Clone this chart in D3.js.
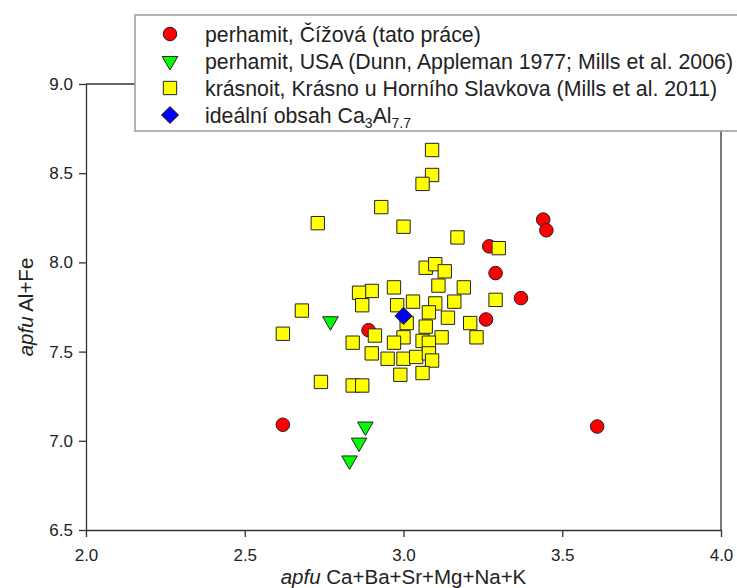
<!DOCTYPE html>
<html>
<head>
<meta charset="utf-8">
<script src="https://cdn.jsdelivr.net/npm/d3@7"></script>
<style>
  body { margin: 0; background: #fff; }
  text { font-family: "Liberation Sans", Arial, sans-serif; fill: #222; }
</style>
</head>
<body>
<div id="wrapper"></div>
<script>
// perhamit, Čížová (this work)
const perhamitCizova = [
    [2.62, 7.09], [3.61, 7.08], [3.44, 8.24], [3.45, 8.18], [3.27, 8.09],
    [3.29, 7.94], [3.37, 7.80], [3.26, 7.68], [2.89, 7.62]
];
// perhamit, USA
const perhamitUSA = [
    [2.77, 7.67], [2.88, 7.08], [2.86, 6.99], [2.83, 6.89]
];
// krásnoit, Krásno
const krasnoit = [
    [3.09, 8.63], [3.09, 8.49], [3.06, 8.44], [2.93, 8.31], [2.73, 8.22],
    [3.00, 8.20], [3.17, 8.14], [3.30, 8.08], [3.07, 7.97], [3.10, 7.99],
    [3.13, 7.95], [3.11, 7.87], [2.97, 7.86], [3.19, 7.86], [2.90, 7.84],
    [2.86, 7.83], [3.29, 7.79], [3.16, 7.78], [3.03, 7.78], [3.10, 7.77],
    [2.98, 7.76], [2.87, 7.76], [2.68, 7.73], [3.08, 7.72], [3.14, 7.69],
    [3.01, 7.66], [3.21, 7.66], [3.07, 7.64], [3.23, 7.58], [2.91, 7.59],
    [2.62, 7.60], [3.00, 7.58], [3.12, 7.58], [3.06, 7.56], [3.08, 7.55],
    [2.97, 7.55], [2.84, 7.55], [2.90, 7.49], [2.95, 7.46], [3.00, 7.46],
    [3.04, 7.47], [3.08, 7.49], [3.09, 7.45], [2.99, 7.37], [3.06, 7.38],
    [2.74, 7.33], [2.84, 7.31], [2.87, 7.31]
];
// ideal Ca3Al7.7
const ideal = [[3.0, 7.7]];

const xTicks = [2.0, 2.5, 3.0, 3.5, 4.0];
const yTicks = [6.5, 7.0, 7.5, 8.0, 8.5, 9.0];

const legendItems = ["cizova", "usa", "krasnoit", "ideal"];

const dimension = {
    width: 737,
    height: 588,
    margin: { top: 84, right: 16, bottom: 58, left: 86 }
};
dimension.boundedWidth = dimension.width - dimension.margin.left - dimension.margin.right;
dimension.boundedHeight = dimension.height - dimension.margin.top - dimension.margin.bottom;

const svg = d3.select("#wrapper")
    .append("svg")
    .attr("width", dimension.width)
    .attr("height", dimension.height);

const bounds = svg.append("g")
    .attr("transform", `translate(${dimension.margin.left},${dimension.margin.top})`);

const x = d3.scaleLinear().domain([2.0, 4.0]).range([0, dimension.boundedWidth]);
const y = d3.scaleLinear().domain([6.5, 9.0]).range([dimension.boundedHeight, 0]);

// axes
const xAxis = bounds.append("g")
    .attr("transform", `translate(0,${dimension.boundedHeight})`)
    .call(d3.axisBottom(x).tickValues(xTicks).tickFormat(d3.format(".1f"))
        .tickSize(7).tickSizeOuter(0).tickPadding(12));
const yAxis = bounds.append("g")
    .call(d3.axisLeft(y).tickValues(yTicks).tickFormat(d3.format(".1f"))
        .tickSize(7).tickSizeOuter(0).tickPadding(6));

[xAxis, yAxis].forEach(a => {
    a.select(".domain").attr("stroke", "#333").attr("stroke-width", 1.3);
    a.selectAll(".tick line").attr("stroke", "#333").attr("stroke-width", 1.3);
    a.selectAll(".tick text").style("font-size", "17px").attr("fill", "#333");
});

// top and right frame
bounds.append("line")
    .attr("x1", x(2)).attr("x2", x(4)).attr("y1", y(9)).attr("y2", y(9))
    .attr("stroke", "#333").attr("stroke-width", 1.3);
bounds.append("line")
    .attr("x1", x(4)).attr("x2", x(4)).attr("y1", y(9)).attr("y2", y(6.5))
    .attr("stroke", "#333").attr("stroke-width", 1.3);

// axis titles
const xTitle = svg.append("text")
    .attr("x", dimension.margin.left + x(3))
    .attr("y", 584)
    .attr("text-anchor", "middle")
    .style("font-size", "20.5px");
xTitle.append("tspan").style("font-style", "italic").text("apfu");
xTitle.append("tspan").text(" Ca+Ba+Sr+Mg+Na+K");

const yTitle = svg.append("text")
    .attr("transform", `translate(33,${dimension.margin.top + y(7.75)}) rotate(-90)`)
    .attr("text-anchor", "middle")
    .style("font-size", "20.5px");
yTitle.append("tspan").style("font-style", "italic").text("apfu");
yTitle.append("tspan").text(" Al+Fe");

// symbols
const sym = {
    cizova: { path: d3.symbol(d3.symbolCircle, 145)(), fill: "#ff0000", rot: 0 },
    usa: { path: d3.symbol(d3.symbolTriangle, 105)(), fill: "#00ff00", rot: 180 },
    krasnoit: { path: d3.symbol(d3.symbolSquare, 178)(), fill: "#ffff00", rot: 0 },
    ideal: { path: d3.symbol(d3.symbolSquare, 140)(), fill: "#0000ff", rot: 45 }
};

function drawSeries(data, key) {
    const s = sym[key];
    bounds.append("g")
        .selectAll("path")
        .data(data)
        .enter()
        .append("path")
        .attr("d", s.path)
        .attr("transform", d => `translate(${x(d[0])},${y(d[1])}) rotate(${s.rot})`)
        .attr("fill", s.fill)
        .attr("stroke", "#222")
        .attr("stroke-width", 1);
}

drawSeries(perhamitCizova, "cizova");
drawSeries(perhamitUSA, "usa");
drawSeries(krasnoit, "krasnoit");
drawSeries(ideal, "ideal");

// legend
const legend = svg.append("g").attr("transform", "translate(135,15)");
legend.append("rect")
    .attr("x", 0).attr("y", 0)
    .attr("width", 620).attr("height", 116)
    .attr("fill", "#fff")
    .attr("stroke", "#999")
    .attr("stroke-width", 1.5);

const rows = legend.selectAll("g.row")
    .data(legendItems)
    .enter()
    .append("g")
    .attr("class", "row")
    .attr("transform", (d, i) => `translate(35,${19 + i * 27})`);

rows.append("path")
    .attr("d", d => sym[d].path)
    .attr("transform", d => `rotate(${sym[d].rot})`)
    .attr("fill", d => sym[d].fill)
    .attr("stroke", "#222")
    .attr("stroke-width", 1);

const labels = {
    cizova: "perhamit, Čížová (tato práce)",
    usa: "perhamit, USA (Dunn, Appleman 1977; Mills et al. 2006)",
    krasnoit: "krásnoit, Krásno u Horního Slavkova (Mills et al. 2011)"
};

rows.append("text")
    .attr("x", 35)
    .attr("y", 7.5)
    .style("font-size", "21.3px")
    .each(function(d) {
        const t = d3.select(this);
        if (d === "ideal") {
            t.append("tspan").text("ideální obsah Ca");
            t.append("tspan").attr("dy", 5).style("font-size", "14px").text("3");
            t.append("tspan").attr("dy", -5).text("Al");
            t.append("tspan").attr("dy", 5).style("font-size", "14px").text("7.7");
        } else {
            t.text(labels[d]);
        }
    });
</script>
</body>
</html>
